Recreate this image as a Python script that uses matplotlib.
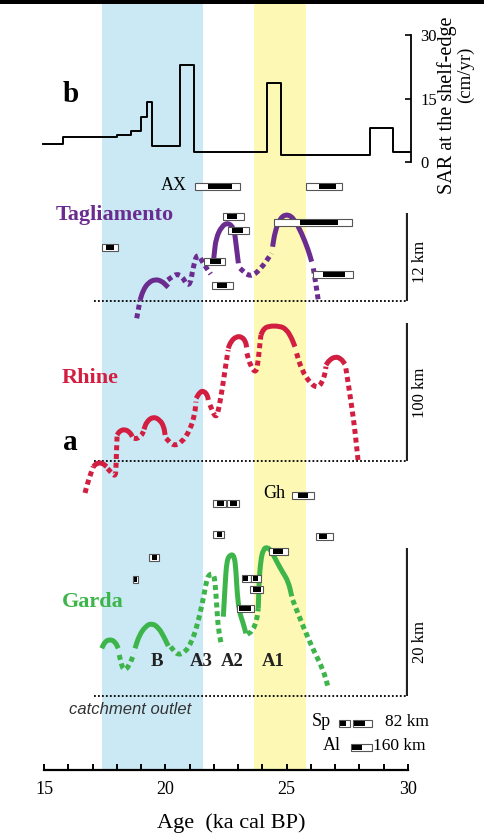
import matplotlib
matplotlib.use('Agg')
import matplotlib.pyplot as plt
from matplotlib.path import Path
from matplotlib.patches import PathPatch, Rectangle
import numpy as np

plt.rcParams['font.family'] = ['Liberation Serif', 'DejaVu Serif']

# ---------------- data ----------------
age_major = [15, 20, 25, 30]
age_minor = list(range(15, 31))
blue_band = (17.4, 21.55)
yellow_band = (23.65, 25.8)

# shelf-edge sediment accumulation rate (cm/yr), step function
sar_age = [14.95, 15.8, 18.0, 18.6, 19.0, 19.25, 19.44, 20.6, 21.18, 24.2, 24.75, 28.43, 29.39, 30.1]
sar_val = [4.2, 6.0, 6.4, 7.3, 10.6, 14.1, 3.8, 22.9, 2.3, 18.6, 1.65, 8.0, 2.4, 2.4]
sar_ticks = [0, 15, 30]

# glacier-front position (km from catchment outlet); (style, ages, km)
tag_segments = [
    ('dotted', [18.82, 18.96], [-2.36, 0.14]),
    ('solid', [18.96, 19.09, 19.30, 19.57, 19.85, 20.06, 20.12], [0.14, 1.5, 2.5, 2.96, 2.73, 2.05, 1.86]),
    ('dotted', [20.10, 20.58, 20.99, 21.15, 21.32, 21.56, 21.87], [2.87, 4.0, 1.59, 4.68, 6.6, 5.14, 3.68]),
    ('solid', [21.97, 22.02, 22.09, 22.32, 22.59, 22.83, 22.91, 23.01], [5.0, 6.6, 8.55, 10.2, 10.7, 9.9, 7.87, 5.14]),
    ('dotted', [23.08, 23.49, 23.90, 24.38], [4.45, 3.23, 4.23, 6.5]),
    ('solid', [24.42, 24.52, 24.72, 25.0, 25.30, 25.62, 25.89, 26.03], [7.4, 9.46, 11.28, 11.87, 11.28, 9.23, 6.96, 5.37]),
    ('dotted', [26.10, 26.21, 26.30], [4.45, 2.18, 0.14]),
]

rhine_segments = [
    ('dotted', [16.69, 16.80, 16.93, 17.03], [-23.2, -16.0, -9.0, -4.1]),
    ('solid', [17.03, 17.17, 17.38, 17.58], [-4.1, -1.7, -1.2, -4.1]),
    ('dotted', [17.62, 17.78, 17.95, 17.97, 17.99, 18.01], [-5.5, -8.5, -11.4, -3.0, 8.0, 17.7]),
    ('solid', [18.01, 18.13, 18.34, 18.54, 18.64], [18.9, 22.0, 23.0, 20.8, 17.7]),
    ('dotted', [18.70, 18.85, 19.03, 19.10], [16.5, 16.2, 18.9, 21.5]),
    ('solid', [19.12, 19.23, 19.50, 19.78, 19.94, 19.99], [23.0, 28.6, 32.2, 29.8, 24.9, 18.9]),
    ('dotted', [20.03, 20.33, 20.67, 21.02, 21.22, 21.26], [16.5, 10.9, 13.3, 22.5, 34.6, 43.1]),
    ('solid', [21.27, 21.43, 21.59, 21.73, 21.77], [45.5, 50.3, 50.8, 47.9, 44.3]),
    ('dotted', [21.84, 22.09, 22.22, 22.36, 22.50, 22.59], [40.7, 30.3, 39.4, 54.0, 70.9, 80.6]),
    ('solid', [22.59, 22.70, 22.91, 23.15, 23.31, 23.35], [81.8, 86.7, 90.3, 90.3, 86.7, 82.5]),
    ('dotted', [23.36, 23.52, 23.74, 23.83, 23.90, 23.94], [78.2, 68.5, 63.7, 73.3, 85.5, 91.5]),
    ('solid', [23.94, 24.04, 24.24, 24.72, 24.99, 25.21, 25.34], [91.5, 95.6, 98.0, 98.0, 95.6, 89.1, 83.0]),
    ('dotted', [25.41, 25.62, 25.97, 26.30, 26.54, 26.62], [78.2, 66.1, 56.4, 52.8, 60.0, 68.5]),
    ('solid', [26.62, 26.76, 27.0, 27.23, 27.40], [69.7, 73.3, 75.8, 74.5, 70.4]),
    ('dotted', [27.44, 27.60, 27.76, 27.87, 27.94], [67.3, 49.1, 29.8, 12.8, 0.7]),
]

garda_segments = [
    ('solid', [17.38, 17.51, 17.72, 17.93, 18.06], [6.46, 7.36, 7.68, 7.36, 6.46]),
    ('dotted', [18.10, 18.27, 18.51, 18.71], [5.56, 3.3, 4.07, 5.78]),
    ('solid', [18.75, 18.93, 19.20, 19.44, 19.71, 19.94, 20.12], [6.46, 8.27, 9.49, 9.85, 9.31, 8.04, 6.78]),
    ('dotted', [20.22, 20.49, 20.81, 21.09, 21.32, 21.54, 21.68, 21.77, 21.98, 22.05, 22.12, 22.18, 22.32],
     [6.68, 5.56, 5.87, 7.36, 9.62, 12.8, 15.3, 16.4, 16.6, 15.5, 12.1, 9.17, 6.78]),
    ('solid', [22.39, 22.46, 22.53, 22.69, 22.84, 22.91, 22.96, 23.05, 23.21, 23.32],
     [10.75, 14.8, 18.4, 19.2, 19.0, 17.1, 13.9, 11.4, 9.85, 8.49]),
    ('dotted', [23.38, 23.60, 23.77, 23.83], [8.36, 8.85, 10.3, 11.9]),
    ('solid', [23.83, 23.86, 23.93, 24.04, 24.20, 24.38, 24.59, 24.83, 25.07, 25.21],
     [11.9, 15.3, 18.4, 19.9, 20.2, 19.6, 18.2, 16.8, 15.5, 13.5]),
    ('dotted', [25.25, 25.68, 26.10, 26.51, 26.72], [13.0, 9.4, 6.23, 3.52, 1.04]),
]

garda_phase_labels = ['B', 'A3', 'A2', 'A1']
garda_phase_ages = [19.64, 21.50, 22.77, 24.45]

# calibrated ages: outer range (lo, hi), inner (black) range (lo, hi)
date_outer_lo = [21.23, 25.78, 22.39, 22.59, 24.49, 17.38, 21.60, 21.93, 26.10,
                 25.21, 21.95, 22.53, 21.95, 26.21, 24.27, 19.34, 18.65, 23.15, 23.54, 23.49, 22.94,
                 27.15, 27.74, 27.64]
date_outer_hi = [23.06, 27.29, 23.24, 23.46, 27.71, 18.06, 22.46, 22.77, 27.72,
                 26.14, 22.50, 23.05, 22.42, 26.92, 25.04, 19.75, 18.89, 23.54, 23.93, 24.04, 23.67,
                 27.62, 28.50, 28.50]
date_inner_lo = [21.77, 26.34, 22.53, 22.74, 25.55, 17.56, 21.83, 22.13, 26.51,
                 25.48, 22.14, 22.66, 22.11, 26.32, 24.42, 19.45, 18.72, 23.22, 23.60, 23.62, 23.05,
                 27.18, 27.78, 27.68]
date_inner_hi = [22.73, 27.03, 22.94, 23.22, 27.13, 17.88, 22.28, 22.53, 27.40,
                 25.89, 22.42, 22.94, 22.32, 26.65, 24.86, 19.64, 18.82, 23.42, 23.80, 23.93, 23.52,
                 27.45, 28.22, 28.09]
# vertical rows of the date boxes (pixel rows of the figure)
date_rows = [186, 186, 216, 230, 222, 247.5, 261, 285.5, 274,
             495, 503.5, 503.5, 534, 536.5, 551, 557.5, 579, 578, 578, 589, 608.5,
             723, 723, 747]

# ---------------- layout ----------------
W, H = 485, 836
X0, X1 = 44.0, 408.0           # pixel columns of 15 and 30 ka
AXIS_PX = 770.0                # pixel row of the age axis

PURPLE = '#6b2c90'
RED = '#d21f41'
GREEN = '#3db54a'
BLUE = '#cbe9f5'
YELLOW = '#fdf8b4'

fig = plt.figure(figsize=(W / 100, H / 100), dpi=100)
L, WD = X0 / W, (X1 - X0) / W


def rect(top_px, bottom_px):
    return [L, 1 - bottom_px / H, WD, (bottom_px - top_px) / H]


# background axes: bands + age axis
ax_bg = fig.add_axes(rect(0, AXIS_PX))
ax_bg.set_xlim(15, 30)
ax_bg.set_ylim(AXIS_PX, 0)
ax_bg.axvspan(*blue_band, color=BLUE, lw=0, zorder=0)
ax_bg.axvspan(*yellow_band, color=YELLOW, lw=0, zorder=0)
for s in ['top', 'left', 'right']:
    ax_bg.spines[s].set_visible(False)
ax_bg.spines['bottom'].set_linewidth(1.6)
ax_bg.set_yticks([])
ax_bg.set_xticks(age_major)
ax_bg.set_xticks(age_minor, minor=True)
ax_bg.tick_params(axis='x', which='both', direction='in', length=4.5, width=1.4, pad=8, labelsize=13)
fig.text(231.7 / W, 1 - 823 / H, 'Age  (ka cal BP)', ha='center', va='center', fontsize=16)


def panel(ylo, yhi, zero_px, ppu):
    ax = fig.add_axes(rect(zero_px - yhi * ppu, zero_px - ylo * ppu))
    ax.set_xlim(15, 30)
    ax.set_ylim(ylo, yhi)
    ax.patch.set_visible(False)
    return ax


def smooth_path(xs, ys):
    pts = np.column_stack([xs, ys]).astype(float)
    n = len(pts)
    if n <= 2:
        return Path(pts)
    verts = [pts[0], (pts[0] + pts[1]) / 2]
    codes = [Path.MOVETO, Path.LINETO]
    for i in range(1, n - 1):
        verts += [pts[i], (pts[i] + pts[i + 1]) / 2]
        codes += [Path.CURVE3, Path.CURVE3]
    verts.append(pts[-1])
    codes.append(Path.LINETO)
    return Path(verts, codes)


def draw_segments(ax, segs, color):
    for style, xs, ys in segs:
        ls = '-' if style == 'solid' else (0, (1.0, 0.75))
        ax.add_patch(PathPatch(smooth_path(xs, ys), fill=False, edgecolor=color, lw=3.6,
                               linestyle=ls, capstyle='butt', joinstyle='round',
                               zorder=3, clip_on=False))


def river_panel(ax, segs, color, bar_len, bar_label, label_y):
    for s in ax.spines.values():
        s.set_visible(False)
    ax.set_xticks([])
    ax.set_yticks([])
    ax.hlines(0, 17.06, 29.95, colors='k', linestyles=(0, (1, 1.2)), lw=1.3, zorder=2)
    ax.vlines(29.95, 0, bar_len, colors='#222222', lw=1.6, zorder=2)
    ax.text(30.5, label_y, bar_label, rotation=90, ha='center', va='center', fontsize=12, clip_on=False)
    draw_segments(ax, segs, color)


# SAR panel (b)
ax_sar = panel(-1, 38, 162.0, 4.233)
ax_sar.step(sar_age, sar_val, where='post', color='k', lw=1.4, clip_on=False)
for s in ['top', 'left', 'bottom']:
    ax_sar.spines[s].set_visible(False)
ax_sar.spines['right'].set_bounds(0, 30)
ax_sar.spines['right'].set_position(('data', 30.12))
ax_sar.spines['right'].set_linewidth(1.3)
ax_sar.set_xticks([])
ax_sar.yaxis.tick_right()
ax_sar.set_yticks(sar_ticks)
ax_sar.tick_params(axis='y', direction='in', length=4, width=1.2, pad=7, labelsize=12)
ax_sar.text(31.62, 13.5, 'SAR at the shelf-edge', rotation=90, ha='center', va='center',
            fontsize=14.5, clip_on=False)
ax_sar.text(32.35, 20.5, '(cm/yr)', rotation=90, ha='center', va='center', fontsize=13.5, clip_on=False)

# river panels (a)
ax_tag = panel(-3, 14, 301.0, 7.33)
river_panel(ax_tag, tag_segments, PURPLE, 12, '12 km', 5.3)
ax_rh = panel(-25, 101, 461.0, 1.377)
river_panel(ax_rh, rhine_segments, RED, 100, '100 km', 49.4)
ax_ga = panel(-1, 21, 696.0, 7.38)
river_panel(ax_ga, garda_segments, GREEN, 20, '20 km', 7.3)
for lab, a in zip(garda_phase_labels, garda_phase_ages):
    ax_ga.text(a, 4.65, lab, ha='center', va='center', fontsize=13.5, fontweight='bold', color='#222222')

# overlay: date boxes + labels
ax_ov = fig.add_axes(rect(0, AXIS_PX))
ax_ov.set_xlim(15, 30)
ax_ov.set_ylim(AXIS_PX, 0)
ax_ov.axis('off')
BOX_H, IN_H = 7.0, 5.0
for lo, hi, ilo, ihi, row in zip(date_outer_lo, date_outer_hi, date_inner_lo, date_inner_hi, date_rows):
    ax_ov.add_patch(Rectangle((lo, row - BOX_H / 2), hi - lo, BOX_H, facecolor='white',
                              edgecolor='#555555', lw=0.8, zorder=5))
    ax_ov.add_patch(Rectangle((ilo, row - IN_H / 2), ihi - ilo, IN_H, facecolor='black',
                              edgecolor='none', zorder=6))

ax_ov.text(15.78, 102, 'b', fontsize=21, fontweight='bold', ha='left', va='baseline')
ax_ov.text(15.78, 450, 'a', fontsize=21, fontweight='bold', ha='left', va='baseline')
ax_ov.text(15.49, 215, 'Tagliamento', fontsize=16, fontweight='bold', color=PURPLE, ha='left', va='center')
ax_ov.text(15.74, 378, 'Rhine', fontsize=16, fontweight='bold', color=RED, ha='left', va='center')
ax_ov.text(15.74, 602, 'Garda', fontsize=16, fontweight='bold', color=GREEN, ha='left', va='center')
ax_ov.text(20.89, 185, 'AX', fontsize=13, ha='right', va='center')
ax_ov.text(24.02, 494, 'Gh', fontsize=13, ha='left', va='center')
ax_ov.text(16.03, 709, 'catchment outlet', fontsize=12, style='italic', family=['Liberation Sans', 'DejaVu Sans'],
           color='#333333', ha='left', va='center')
ax_ov.text(26.04, 722, 'Sp', fontsize=13, ha='left', va='center')
ax_ov.text(29.05, 722, '82 km', fontsize=12.5, ha='left', va='center')
ax_ov.text(26.50, 746, 'Al', fontsize=13, ha='left', va='center')
ax_ov.text(28.56, 746, '160 km', fontsize=12.5, ha='left', va='center')

# thin black strip along the top edge
fig.patches.append(Rectangle((0, 1 - 4 / H), 1, 4 / H, transform=fig.transFigure,
                             facecolor='black', edgecolor='none', zorder=20))

fig.savefig('out.png', dpi=100)
